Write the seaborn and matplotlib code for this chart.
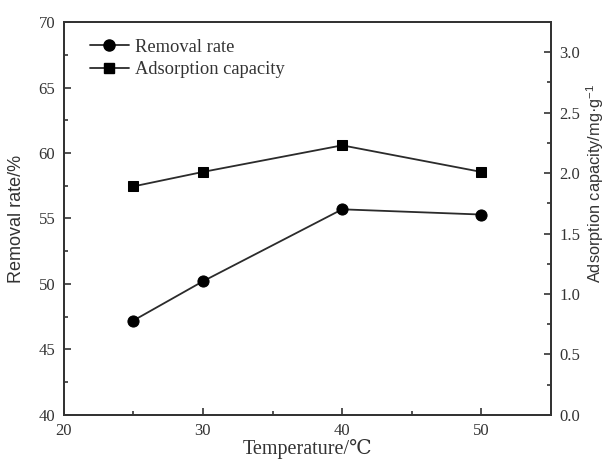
import matplotlib
matplotlib.use("Agg")
import matplotlib.pyplot as plt
import seaborn as sns
import pandas as pd
from matplotlib.ticker import MultipleLocator
from matplotlib.lines import Line2D

temperature = [25, 30, 40, 50]
removal_rate = [47.2, 50.2, 55.7, 55.3]
adsorption_capacity = [1.89, 2.01, 2.23, 2.01]
right_ticks = [0.0, 0.5, 1.0, 1.5, 2.0, 2.5, 3.0]
right_tick_labels = ["0.0", "0.5", "1.0", "1.5", "2.0", "2.5", "3.0"]

df = pd.DataFrame({"Temperature": temperature,
                   "Removal rate": removal_rate,
                   "Adsorption capacity": adsorption_capacity})

sns.set_style("ticks")
plt.rcParams['font.family'] = ['Liberation Serif', 'DejaVu Serif']
plt.rcParams['mathtext.fontset'] = 'custom'
plt.rcParams['mathtext.rm'] = 'Liberation Sans'

fig = plt.figure(figsize=(6.11, 4.59), dpi=100)
ax = fig.add_axes([0.104, 0.096, 0.798, 0.856])
ax2 = ax.twinx()

c = '#2b2b2b'
sns.lineplot(data=df, x="Temperature", y="Removal rate", ax=ax, color=c,
             marker='o', markersize=8, markeredgecolor='black', markerfacecolor='black',
             linewidth=1.3)
sns.lineplot(data=df, x="Temperature", y="Adsorption capacity", ax=ax2, color=c,
             marker='s', markersize=7.5, markeredgecolor='black', markerfacecolor='black',
             linewidth=1.3)

ax.set_xlim(20, 55)
ax.set_ylim(40, 70)
ax2.set_ylim(0, 3.25)
ax.xaxis.set_major_locator(MultipleLocator(10))
ax.xaxis.set_minor_locator(MultipleLocator(5))
ax.yaxis.set_major_locator(MultipleLocator(5))
ax.yaxis.set_minor_locator(MultipleLocator(2.5))
ax2.yaxis.set_minor_locator(MultipleLocator(0.25))
ax2.set_yticks(right_ticks)
ax2.set_yticklabels(right_tick_labels)

ax.tick_params(axis='both', which='both', direction='in', top=False, right=False,
               labelsize=12, colors='#333333', length=5, width=1.2, pad=6)
ax.tick_params(which='minor', length=3)
ax2.tick_params(axis='y', which='both', direction='in', labelsize=12,
                colors='#333333', length=5, width=1.2, pad=6)
ax2.tick_params(which='minor', length=3)
for a in (ax, ax2):
    for s in a.spines.values():
        s.set_linewidth(1.3)
        s.set_color('#333333')

ax.set_xlabel("Temperature/\u2103", fontsize=14.5, color='#333333', labelpad=0)
ax.set_ylabel("Removal rate/%", fontsize=13, color='#333333', family='Liberation Sans', labelpad=10)
ax2.set_ylabel("Adsorption capacity/mg\u00b7g$^{-1}$", fontsize=11.8, color='#333333',
               family='Liberation Sans')
ax2.yaxis.set_label_coords(1.068, 0.59)

handles = [Line2D([], [], color=c, marker='o', markersize=8, markerfacecolor='black',
                  markeredgecolor='black', linewidth=1.3),
           Line2D([], [], color=c, marker='s', markersize=7.5, markerfacecolor='black',
                  markeredgecolor='black', linewidth=1.3)]
leg = ax.legend(handles, ["Removal rate", "Adsorption capacity"], loc='upper left',
                bbox_to_anchor=(0.02, 1.0), frameon=False, fontsize=13.3,
                handlelength=2.1, handletextpad=0.35, labelspacing=0.3)
for t in leg.get_texts():
    t.set_color('#333333')

fig.savefig("out.png", dpi=100)
